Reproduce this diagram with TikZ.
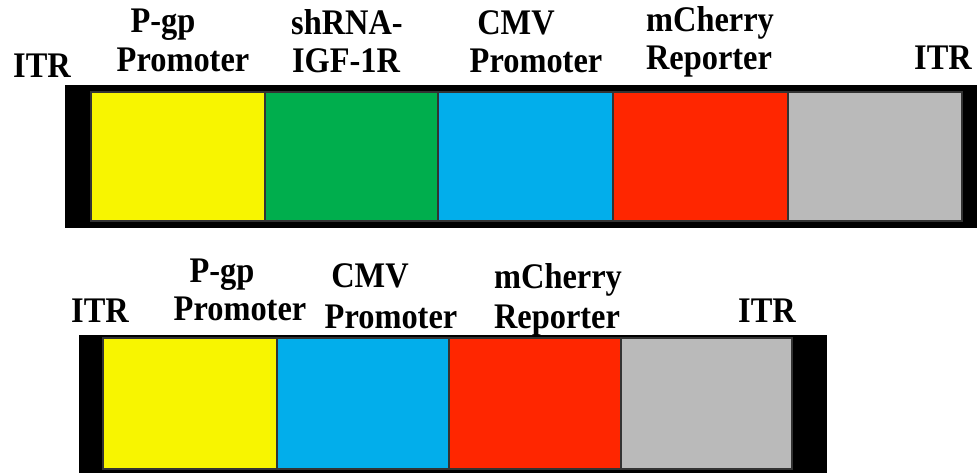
\documentclass[tikz,border=0pt]{standalone}
\usepackage{fontspec}
\setmainfont{Liberation Serif}
\definecolor{cyel}{HTML}{F8F500}
\definecolor{cgrn}{HTML}{00AE4D}
\definecolor{cblu}{HTML}{02AEEB}
\definecolor{cred}{HTML}{FF2600}
\definecolor{cgry}{HTML}{BABABA}
\tikzset{
  lbl/.style={anchor=base, inner sep=0pt, xscale=0.9, transform shape, font=\fontsize{36}{40}\selectfont\bfseries},
  cell/.style={anchor=north west, draw=black!80, line width=1.8pt, inner sep=0pt, outer sep=0pt}
}
\begin{document}
\begin{tikzpicture}[x=1pt,y=-1pt]
\useasboundingbox (0,0) rectangle (977,473);
% top construct
\fill[black] (65,85) rectangle (977,228);
\node[cell, fill=cyel, minimum width=174pt, minimum height=129pt] (t1) at (91,92) {};
\node[cell, fill=cgrn, minimum width=173pt, minimum height=129pt] (t2) at (265,92) {};
\node[cell, fill=cblu, minimum width=175pt, minimum height=129pt] (t3) at (438,92) {};
\node[cell, fill=cred, minimum width=175pt, minimum height=129pt] (t4) at (613,92) {};
\node[cell, fill=cgry, minimum width=174pt, minimum height=129pt] (t5) at (788,92) {};
% top labels
\node[lbl] (tl0) at (42,78) {ITR};
\node[lbl] (tl1a) at (163,33) {P-gp};
\node[lbl] (tl1b) at (183,72) {Promoter};
\node[lbl] (tl2a) at (347,35) {shRNA-};
\node[lbl] (tl2b) at (346,73) {IGF-1R};
\node[lbl] (tl3a) at (516,35) {CMV};
\node[lbl] (tl3b) at (536,73) {Promoter};
\node[lbl] (tl4a) at (710,32) {mCherry};
\node[lbl] (tl4b) at (709,70) {Reporter};
\node[lbl] (tl5) at (943,70) {ITR};
% bottom construct
\fill[black] (79,335) rectangle (827,475);
\node[cell, fill=cyel, minimum width=174pt, minimum height=131pt] (b1) at (103,338) {};
\node[cell, fill=cblu, minimum width=172pt, minimum height=131pt] (b2) at (277,338) {};
\node[cell, fill=cred, minimum width=172pt, minimum height=131pt] (b3) at (449,338) {};
\node[cell, fill=cgry, minimum width=171pt, minimum height=131pt] (b4) at (621,338) {};
% bottom labels
\node[lbl] (bl0) at (100,322) {ITR};
\node[lbl] (bl1a) at (222,282) {P-gp};
\node[lbl] (bl1b) at (240,320) {Promoter};
\node[lbl] (bl2a) at (370,287) {CMV};
\node[lbl] (bl2b) at (391,328) {Promoter};
\node[lbl] (bl3a) at (558,288) {mCherry};
\node[lbl] (bl3b) at (557,328) {Reporter};
\node[lbl] (bl4) at (767,322) {ITR};
\end{tikzpicture}
\end{document}
